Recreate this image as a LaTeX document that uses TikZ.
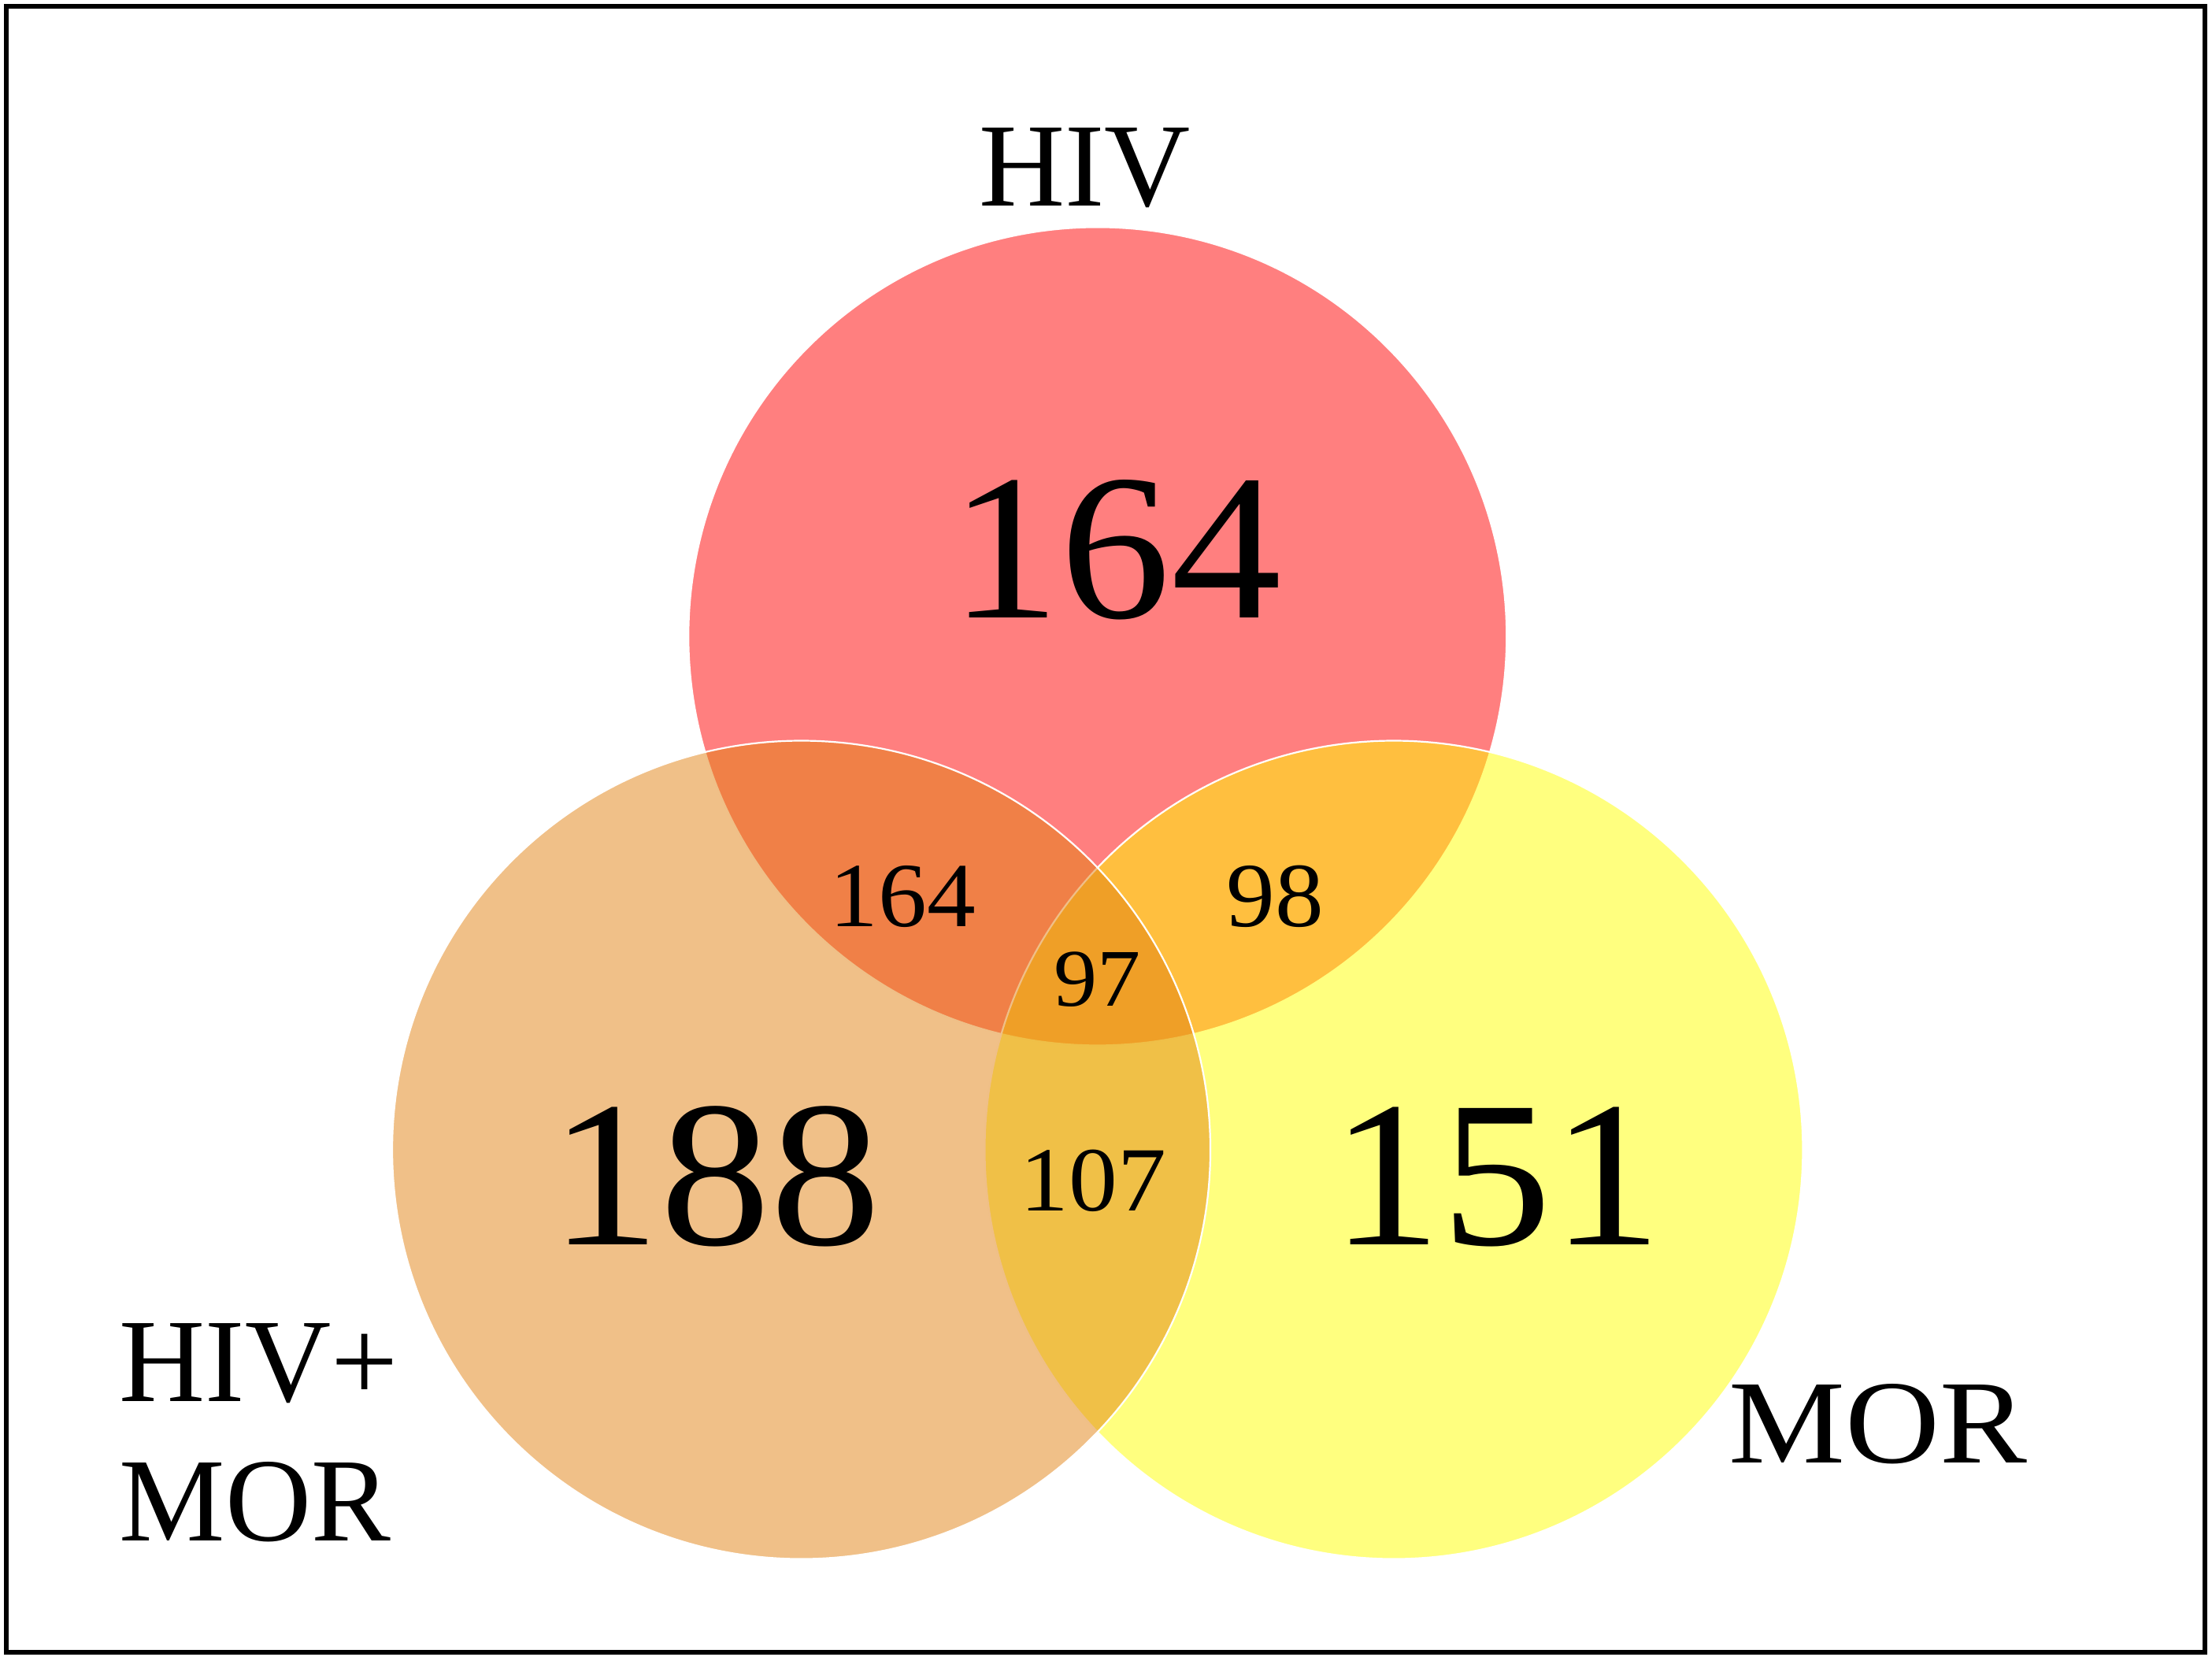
\documentclass[tikz,border=0pt]{standalone}
\usepackage{fontspec}
\setmainfont{Liberation Serif}
\newfontfamily\numfont[FakeStretch=1.06]{Liberation Serif}
\usepackage{tikz}

\definecolor{hivred}{RGB}{255,0,0}
\definecolor{morylw}{RGB}{255,255,0}
\definecolor{bothorg}{RGB}{225,129,17}

\begin{document}
\begin{tikzpicture}[x=0.1mm, y=-0.1mm,
  set/.style = {circle, draw=white, line width=0.35pt, fill opacity=0.5, minimum size=58mm, inner sep=0pt},
  big/.style = {anchor=base, inner sep=0pt, font=\numfont\fontsize{42}{48}\selectfont},
  small/.style = {anchor=base, inner sep=0pt, font=\numfont\fontsize{18.5}{22}\selectfont},
  lab/.style = {inner sep=0pt, font=\fontsize{24}{28}\selectfont}]
\useasboundingbox (0,0) rectangle (1568,1174);
\draw[line width=0.9pt] (4.5,4.5) rectangle (1563,1171);
% the three sets
\node[set, fill=hivred] (hiv) at (778,451) {};
\node[set, fill=morylw] (mor) at (988,815) {};
\node[set, fill=bothorg] (both) at (568,815) {};
% set names
\node[lab, anchor=base] (hivlab) at (769,146) {HIV};
\node[lab, anchor=base west, font=\fontsize{24}{28}\selectfont\addfontfeature{FakeStretch=1.1}] (morlab) at (1225,1037) {MOR};
\node[lab, anchor=base west, align=left] (bothlab) at (84,1092) {HIV+\\MOR};
% counts
\node[big] (hivonly) at (791,438) {164};
\node[big] (bothonly) at (507,882) {188};
\node[big] (moronly) at (1061,882) {151};
\node[small] (hivboth) at (640,657) {164};
\node[small] (hivmor) at (904,657) {98};
\node[small, font=\numfont\fontsize{16.5}{20}\selectfont] (all) at (778,713) {97};
\node[small] (bothmor) at (775,858) {107};
\end{tikzpicture}
\end{document}
